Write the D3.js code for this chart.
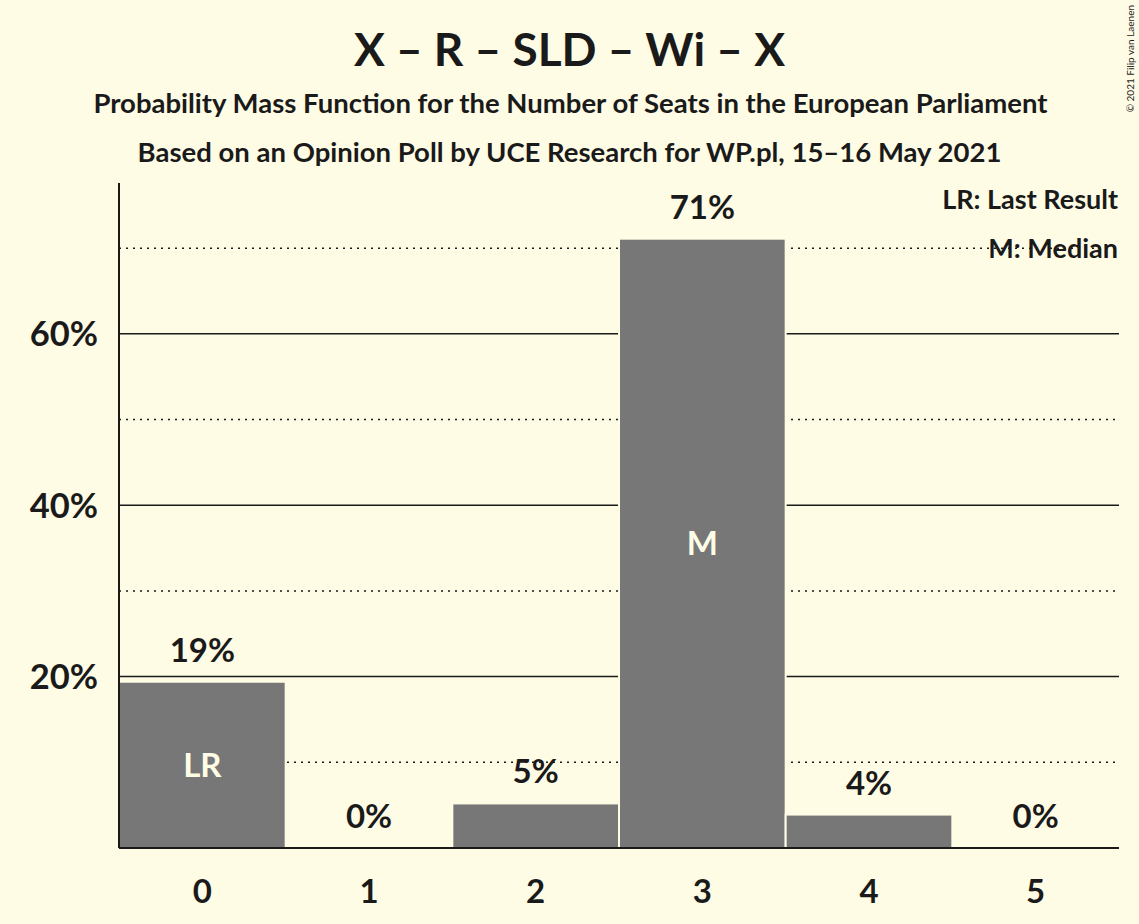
<!DOCTYPE html>
<html lang="en">
<head>
<meta charset="UTF-8">
<title>X – R – SLD – Wi – X</title>
<script src="https://cdn.jsdelivr.net/npm/d3@7"></script>
<style>
    html, body {
        margin: 0;
        padding: 0;
        background: #fffce6;
    }
    svg text {
        font-family: Lato, "Open Sans", sans-serif;
        font-weight: bold;
        fill: #1a1a1a;
    }
</style>
</head>
<body>
<script>
// seats and probabilities (%)
const seats = [0, 1, 2, 3, 4, 5]
const probs = [19.4, 0, 5.2, 71.1, 3.9, 0]
const probLabels = ['19%', '0%', '5%', '71%', '4%', '0%']
const inBarLabels = ['LR', '', '', 'M', '', '']
const majorTicks = [20, 40, 60]
const minorTicks = [10, 30, 50, 70]

const W = 1139, H = 924
const bg = '#fffce6'
const margin = {left: 119, right: 20, top: 183, bottom: 76}

const svg = d3.select('body').append('svg')
    .attr('width', W)
    .attr('height', H)

svg.append('rect').attr('width', W).attr('height', H).attr('fill', bg)

const x = d3.scaleBand()
    .domain(seats)
    .range([margin.left, W - margin.right])
    .padding(0)

const y = d3.scaleLinear()
    .domain([0, 77.6])
    .range([H - margin.bottom, margin.top])

// titles
svg.append('text')
    .attr('x', W / 2).attr('y', 66)
    .attr('text-anchor', 'middle')
    .style('font-size', '46px')
    .text('X – R – SLD – Wi – X')

svg.append('text')
    .attr('x', W / 2 + 1).attr('y', 113)
    .attr('text-anchor', 'middle')
    .style('font-size', '27.5px')
    .text('Probability Mass Function for the Number of Seats in the European Parliament')

svg.append('text')
    .attr('x', W / 2).attr('y', 162)
    .attr('text-anchor', 'middle')
    .style('font-size', '27.5px')
    .text('Based on an Opinion Poll by UCE Research for WP.pl, 15–16 May 2021')

// copyright
svg.append('text')
    .attr('transform', 'translate(1134,5) rotate(-90)')
    .attr('text-anchor', 'end')
    .style('font-size', '10px')
    .style('font-weight', 'normal')
    .text('© 2021 Filip van Laenen')

// gridlines
svg.selectAll('line.major')
    .data(majorTicks)
    .join('line')
    .attr('class', 'major')
    .attr('x1', margin.left).attr('x2', W - margin.right)
    .attr('y1', d => y(d)).attr('y2', d => y(d))
    .attr('stroke', '#1a1a1a')
    .attr('stroke-width', 1.5)

svg.selectAll('line.minor')
    .data(minorTicks)
    .join('line')
    .attr('class', 'minor')
    .attr('x1', margin.left).attr('x2', W - margin.right)
    .attr('y1', d => y(d)).attr('y2', d => y(d))
    .attr('stroke', '#1a1a1a')
    .attr('stroke-width', 1.5)
    .attr('stroke-dasharray', '2,5')

// legend
svg.append('text')
    .attr('x', W - 21).attr('y', 209)
    .attr('text-anchor', 'end')
    .style('font-size', '27px')
    .text('LR: Last Result')

svg.append('text')
    .attr('x', W - 21).attr('y', 258)
    .attr('text-anchor', 'end')
    .style('font-size', '27px')
    .text('M: Median')

// bars
svg.selectAll('rect.bar')
    .data(seats)
    .join('rect')
    .attr('class', 'bar')
    .attr('x', d => x(d))
    .attr('width', x.bandwidth())
    .attr('y', (d, i) => y(probs[i]))
    .attr('height', (d, i) => y(0) - y(probs[i]))
    .attr('fill', '#777777')
    .attr('stroke', bg)
    .attr('stroke-width', (d, i) => probs[i] > 0 ? 2 : 0)

// value labels
svg.selectAll('text.val')
    .data(seats)
    .join('text')
    .attr('class', 'val')
    .attr('x', d => x(d) + x.bandwidth() / 2)
    .attr('y', (d, i) => y(probs[i]) - 20)
    .attr('text-anchor', 'middle')
    .style('font-size', '33px')
    .text((d, i) => probLabels[i])

// LR / M inside bars
svg.selectAll('text.inbar')
    .data(seats.filter((d, i) => inBarLabels[i]))
    .join('text')
    .attr('class', 'inbar')
    .attr('x', d => x(d) + x.bandwidth() / 2)
    .attr('y', d => (y(probs[d]) + y(0)) / 2)
    .attr('dy', '0.36em')
    .attr('text-anchor', 'middle')
    .style('font-size', '33px')
    .style('fill', '#fffce6')
    .text(d => inBarLabels[d])

// axes
svg.append('line')
    .attr('x1', margin.left).attr('x2', margin.left)
    .attr('y1', margin.top).attr('y2', y(0))
    .attr('stroke', '#1a1a1a').attr('stroke-width', 2)

svg.append('line')
    .attr('x1', margin.left).attr('x2', W - margin.right)
    .attr('y1', y(0)).attr('y2', y(0))
    .attr('stroke', '#1a1a1a').attr('stroke-width', 2)

svg.selectAll('text.ytick')
    .data(majorTicks)
    .join('text')
    .attr('class', 'ytick')
    .attr('x', 98)
    .attr('y', d => y(d))
    .attr('dy', '0.36em')
    .attr('text-anchor', 'end')
    .style('font-size', '34.5px')
    .text(d => d + '%')

svg.selectAll('text.xtick')
    .data(seats)
    .join('text')
    .attr('class', 'xtick')
    .attr('x', d => x(d) + x.bandwidth() / 2)
    .attr('y', 903)
    .attr('text-anchor', 'middle')
    .style('font-size', '33px')
    .text(d => d)
</script>
</body>
</html>
